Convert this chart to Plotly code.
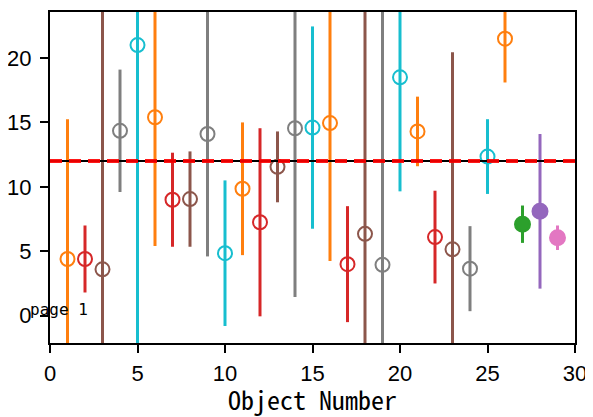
import plotly.graph_objects as go

# Data
obj_num = list(range(1, 30))
values = [4.4, 4.4, 3.6, 14.35, 21.0, 15.4, 9.0, 9.05, 14.1, 4.85,
          9.85, 7.25, 11.55, 14.55, 14.6, 14.95, 4.0, 6.35, 3.95, 18.5,
          14.3, 6.1, 5.15, 3.65, 12.35, 21.5, 7.1, 8.1, 6.05]
errors = [10.85, 2.6, 30.0, 4.75, 30.0, 10.0, 3.65, 3.7, 9.5, 5.65,
          5.15, 7.3, 2.75, 13.1, 7.85, 10.7, 4.5, 30.0, 30.0, 8.85,
          2.7, 3.6, 15.3, 3.3, 2.9, 3.4, 1.45, 6.0, 0.95]
color_names = ["orange", "red", "brown", "gray", "cyan"] * 5 + ["orange", "green", "purple", "pink"]
filled = [False] * 26 + [True] * 3
threshold = 12.0

palette = {"orange": "#ff7f0e", "red": "#d62728", "brown": "#8c564b", "gray": "#7f7f7f",
           "cyan": "#17becf", "green": "#2ca02c", "purple": "#9467bd", "pink": "#e377c2"}

fig = go.Figure()
for i in range(len(obj_num)):
    c = palette[color_names[i]]
    fig.add_trace(go.Scatter(
        x=[obj_num[i]], y=[values[i]], mode="markers",
        error_y=dict(type="data", array=[errors[i]], symmetric=True, color=c, thickness=3, width=0),
        marker=dict(symbol="circle" if filled[i] else "circle-open", size=15 if filled[i] else 14,
                    color=c, line=dict(color=c, width=2)),
        showlegend=False, hoverinfo="skip"))

fig.add_shape(type="line", xref="paper", x0=0, x1=1, yref="y", y0=threshold, y1=threshold,
              line=dict(color="black", width=2), layer="above")
fig.add_shape(type="line", xref="paper", x0=0, x1=1, yref="y", y0=threshold, y1=threshold,
              line=dict(color="rgba(255,0,0,0.9)", width=4, dash="12px,7px"), layer="above")

fig.add_annotation(text="page 1", xref="paper", yref="paper", x=-0.042, y=0.102,
                   xanchor="left", yanchor="middle", showarrow=False,
                   font=dict(family="DejaVu Sans Mono", size=16, color="black"))

axis_common = dict(showgrid=False, zeroline=False, showline=True, linecolor="black", linewidth=2,
                   mirror=True, ticks="outside", ticklen=8, tickwidth=1.5, tickcolor="black",
                   tickfont=dict(family="Liberation Sans", size=22, color="black"))
fig.update_xaxes(range=[0, 30], tickvals=[0, 5, 10, 15, 20, 25, 30], ticklabelstandoff=2,
                 title=dict(text="Object Number", font=dict(family="Noto Sans Mono CJK SC, DejaVu Sans Mono", size=26, color="black"), standoff=10),
                 **axis_common)
fig.update_yaxes(range=[-2.12, 23.57], tickvals=[0, 5, 10, 15, 20], ticklabelstandoff=4,
                 automargin=False, **axis_common)

fig.update_layout(width=585, height=409, margin=dict(l=42, r=18, t=2, b=74),
                  plot_bgcolor="white", paper_bgcolor="white")
fig.write_html("out.html")
